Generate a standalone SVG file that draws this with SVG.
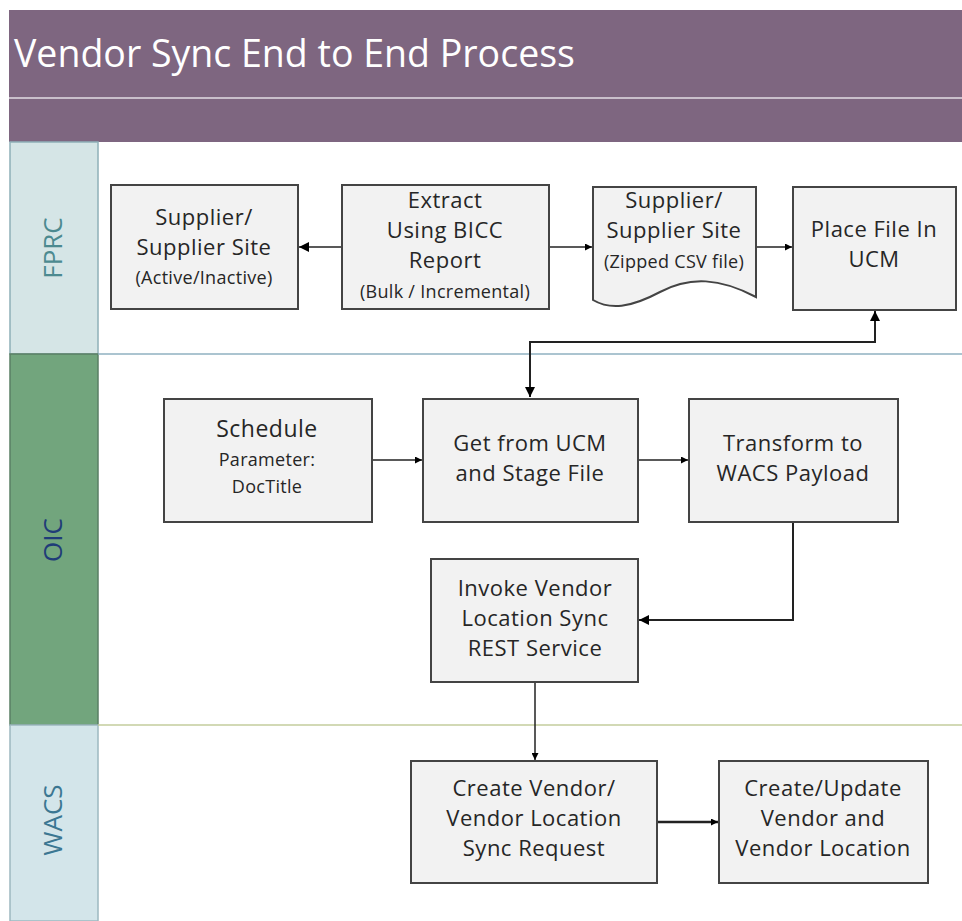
<svg xmlns="http://www.w3.org/2000/svg" width="962" height="921" viewBox="0 0 962 921">
<defs>
<marker id="ah" viewBox="0 0 10 10" refX="10" refY="5" markerWidth="7" markerHeight="7" markerUnits="userSpaceOnUse" orient="auto-start-reverse"><path d="M0,0 L10,5 L0,10 z" fill="#000"/></marker>
<marker id="ahb" viewBox="0 0 10 10" refX="10" refY="5" markerWidth="10" markerHeight="10" markerUnits="userSpaceOnUse" orient="auto-start-reverse"><path d="M0,0 L10,5 L0,10 z" fill="#000"/></marker>
</defs>
<style>
.box{fill:#f2f2f2;stroke:#444;stroke-width:2}
.t{font-family:"Open Sans","Liberation Sans",sans-serif;font-size:22px;letter-spacing:0.5px;fill:#262626;text-anchor:middle}
.s{font-size:18px;letter-spacing:0.3px}
.lane{font-family:"Open Sans","Liberation Sans",sans-serif;font-size:26px;text-anchor:middle}
.c{fill:none;stroke:#222;stroke-width:1.5}
</style>
<rect width="962" height="921" fill="#fff"/>
<g id="header">
<rect x="9" y="10" width="953" height="132" fill="#7e6680"/>
<line x1="9" y1="98" x2="962" y2="98" stroke="#c9bfcb" stroke-width="2"/>
<text x="14" y="67" font-family="Open Sans, Liberation Sans, sans-serif" font-size="37.5" fill="#fff">Vendor Sync End to End Process</text>
</g>
<g id="lanes">
<rect x="10" y="142" width="88" height="212" fill="#d5e5e6" stroke="#8fb0b8" stroke-width="1.5"/>
<rect x="10" y="354" width="88" height="371" fill="#72a57d" stroke="#5a7f64" stroke-width="1.5"/>
<rect x="10" y="725" width="88" height="196" fill="#d3e5ea" stroke="#9db8c0" stroke-width="1.5"/>
<line x1="98" y1="354" x2="962" y2="354" stroke="#8fb0c0" stroke-width="1.5"/>
<line x1="98" y1="725" x2="962" y2="725" stroke="#c3cc9c" stroke-width="1.5"/>
<text class="lane" transform="translate(62,248) rotate(-90)" fill="#4c8a90">FPRC</text>
<text class="lane" transform="translate(62,540) rotate(-90)" fill="#1f3c78">OIC</text>
<text class="lane" transform="translate(62,820) rotate(-90)" fill="#3b7792">WACS</text>
</g>
<g id="connectors">
<line class="c" x1="342" y1="247" x2="299" y2="247" marker-end="url(#ahb)"/>
<line class="c" x1="549" y1="247" x2="592" y2="247" marker-end="url(#ah)"/>
<line class="c" x1="756" y1="247" x2="792" y2="247" marker-end="url(#ah)"/>
<polyline class="c" style="stroke-width:2" points="530,397 530,342 875,342 875,311" marker-start="url(#ahb)" marker-end="url(#ahb)"/>
<line class="c" x1="372" y1="460" x2="422" y2="460" marker-end="url(#ah)"/>
<line class="c" x1="638" y1="460" x2="688" y2="460" marker-end="url(#ah)"/>
<polyline class="c" style="stroke-width:2" points="793,522 793,620 639,620" marker-end="url(#ahb)"/>
<line class="c" x1="535" y1="682" x2="535" y2="760" marker-end="url(#ah)"/>
<line class="c" style="stroke-width:2.5" x1="657" y1="822" x2="718" y2="822" marker-end="url(#ah)"/>
</g>
<g id="n-supplier">
<rect class="box" x="111" y="185" width="187" height="124"/>
<text class="t" x="204" y="225">Supplier/</text>
<text class="t" x="204" y="255">Supplier Site</text>
<text class="t s" x="204" y="284">(Active/Inactive)</text>
</g>
<g id="n-extract">
<rect class="box" x="342" y="185" width="207" height="124"/>
<text class="t" x="445" y="208">Extract</text>
<text class="t" x="445" y="238">Using BICC</text>
<text class="t" x="445" y="268">Report</text>
<text class="t s" x="445" y="298">(Bulk / Incremental)</text>
</g>
<g id="n-csv">
<path class="box" d="M593,187 L756,187 L756,297 C720,278 690,276 660,292 C630,308 610,310 593,300 Z"/>
<text class="t" x="674" y="208">Supplier/</text>
<text class="t" x="674" y="238">Supplier Site</text>
<text class="t s" x="674" y="268">(Zipped CSV file)</text>
</g>
<g id="n-place">
<rect class="box" x="793" y="187" width="163" height="123"/>
<text class="t" x="874" y="237">Place File In</text>
<text class="t" x="874" y="267">UCM</text>
</g>
<g id="n-schedule">
<rect class="box" x="164" y="399" width="208" height="123"/>
<text class="t" x="267" y="437" style="font-size:23px">Schedule</text>
<text class="t s" x="267" y="466">Parameter:</text>
<text class="t s" x="267" y="493">DocTitle</text>
</g>
<g id="n-get">
<rect class="box" x="423" y="399" width="215" height="123"/>
<text class="t" x="530" y="451">Get from UCM</text>
<text class="t" x="530" y="481">and Stage File</text>
</g>
<g id="n-transform">
<rect class="box" x="689" y="399" width="209" height="123"/>
<text class="t" x="793" y="451">Transform to</text>
<text class="t" x="793" y="481">WACS Payload</text>
</g>
<g id="n-invoke">
<rect class="box" x="431" y="559" width="207" height="123"/>
<text class="t" x="535" y="596">Invoke Vendor</text>
<text class="t" x="535" y="626">Location Sync</text>
<text class="t" x="535" y="656">REST Service</text>
</g>
<g id="n-create">
<rect class="box" x="411" y="761" width="246" height="122"/>
<text class="t" x="534" y="796">Create Vendor/</text>
<text class="t" x="534" y="826">Vendor Location</text>
<text class="t" x="534" y="856">Sync Request</text>
</g>
<g id="n-update">
<rect class="box" x="719" y="761" width="209" height="122"/>
<text class="t" x="823" y="796">Create/Update</text>
<text class="t" x="823" y="826">Vendor and</text>
<text class="t" x="823" y="856">Vendor Location</text>
</g>
</svg>
